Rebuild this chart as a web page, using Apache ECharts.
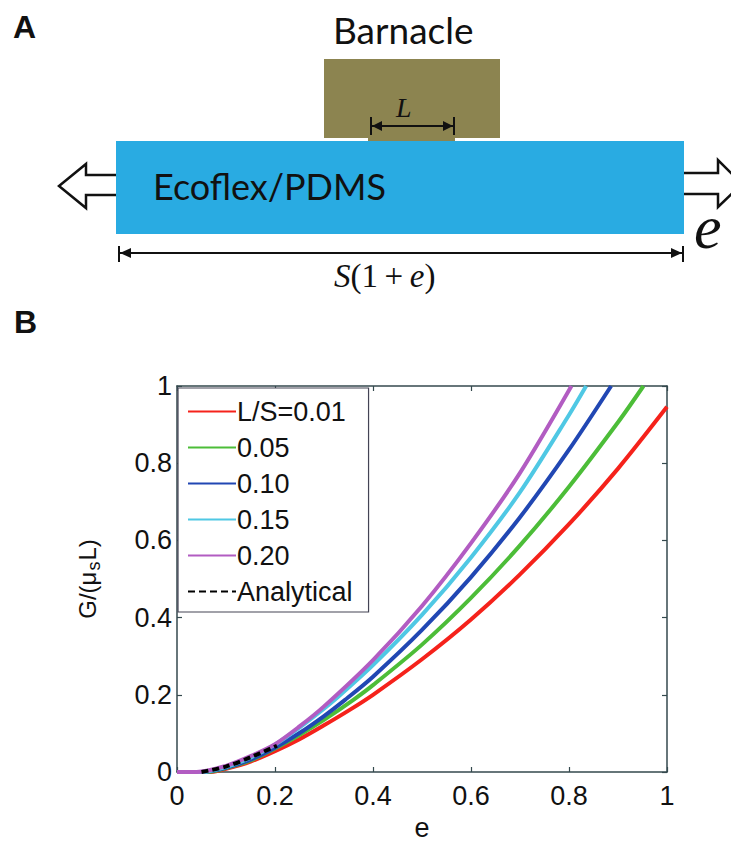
<!DOCTYPE html>
<html><head><meta charset="utf-8">
<script src="https://cdn.jsdelivr.net/npm/echarts@6/dist/echarts.min.js"></script>
<style>html,body{margin:0;padding:0;background:#fff}#c{width:731px;height:843px}</style>
</head><body><div id="c"></div>
<script>
// ---- data ----
const seriesNames = ['L/S=0.01', '0.05', '0.10', '0.15', '0.20', 'Analytical'];
const xTicks = [0, 0.2, 0.4, 0.6, 0.8, 1];
const yTicks = [0, 0.2, 0.4, 0.6, 0.8, 1];

const redE = [0, 0.07, 0.1, 0.15, 0.2, 0.25, 0.3, 0.35, 0.4, 0.5, 0.6, 0.7, 0.8, 0.9, 1.0];
const redG = [0, 0, 0.008, 0.027, 0.054, 0.085, 0.121, 0.159, 0.2, 0.292, 0.395, 0.512, 0.642, 0.786, 0.946];

const greenE = [0, 0.06, 0.1, 0.15, 0.2, 0.25, 0.3, 0.36, 0.4, 0.5, 0.6, 0.7, 0.8, 0.9, 0.952];
const greenG = [0, 0, 0.01, 0.03, 0.061, 0.096, 0.135, 0.187, 0.225, 0.33, 0.451, 0.587, 0.739, 0.906, 1.0];

const blueE = [0, 0.05, 0.1, 0.15, 0.2, 0.25, 0.3, 0.343, 0.4, 0.5, 0.6, 0.7, 0.8, 0.886];
const blueG = [0, 0, 0.011, 0.032, 0.063, 0.101, 0.145, 0.187, 0.247, 0.368, 0.505, 0.66, 0.835, 1.0];

const cyanE = [0, 0.05, 0.1, 0.15, 0.2, 0.25, 0.3, 0.322, 0.4, 0.5, 0.6, 0.7, 0.8, 0.835];
const cyanG = [0, 0, 0.013, 0.037, 0.071, 0.115, 0.164, 0.187, 0.277, 0.407, 0.556, 0.725, 0.925, 1.0];

const purpleE = [0, 0.04, 0.1, 0.15, 0.2, 0.25, 0.3, 0.4, 0.5, 0.6, 0.7, 0.805];
const purpleG = [0, 0, 0.016, 0.041, 0.072, 0.118, 0.17, 0.29, 0.43, 0.593, 0.775, 1.0];

const analyticE = [0.05, 0.1, 0.15, 0.204];
const analyticG = [0, 0.014, 0.038, 0.068];

const colors = ['#f5221b', '#4cbd38', '#2147b3', '#4fc8e4', '#b25cc2', '#000000'];

function zip(a, b) { return a.map((v, i) => [v, b[i]]); }
const allData = [zip(redE, redG), zip(greenE, greenG), zip(blueE, blueG), zip(cyanE, cyanG), zip(purpleE, purpleG), zip(analyticE, analyticG)];

const frame = '#34494e';
const chart = echarts.init(document.getElementById('c'), null, {renderer: 'svg'});

const series = allData.map((d, i) => ({
  name: seriesNames[i],
  type: 'line',
  data: d,
  symbol: 'none',
  smooth: 0.3,
  clip: true,
  lineStyle: {color: colors[i], width: 4, type: i === 5 ? [7, 4] : 'solid'},
  itemStyle: {color: colors[i]},
  z: 2 + i
}));

const serif = '"Liberation Serif", "DejaVu Serif", serif';
const sans = '"Liberation Sans", Arial, sans-serif';
const cal = 'Lato, "Open Sans", sans-serif';

const graphics = [
  {type: 'text', left: 13, top: 11, style: {text: 'A', font: 'bold 32px ' + sans, fill: '#111'}},
  {type: 'text', left: 14, top: 306, style: {text: 'B', font: 'bold 32px ' + sans, fill: '#111'}},
  {type: 'text', left: 333, top: 11, style: {text: 'Barnacle', font: '37px ' + cal, fill: '#111'}},
  // barnacle block
  {type: 'rect', shape: {x: 324, y: 59, width: 176, height: 79}, style: {fill: '#8c8450'}},
  {type: 'rect', shape: {x: 368, y: 136, width: 87, height: 6}, style: {fill: '#8c8450'}},
  // L dimension
  {type: 'line', shape: {x1: 371, y1: 126, x2: 454, y2: 126}, style: {stroke: '#111', lineWidth: 2}},
  {type: 'line', shape: {x1: 371, y1: 117, x2: 371, y2: 135}, style: {stroke: '#111', lineWidth: 2}},
  {type: 'line', shape: {x1: 454, y1: 117, x2: 454, y2: 135}, style: {stroke: '#111', lineWidth: 2}},
  {type: 'polygon', shape: {points: [[372, 126], [382, 121], [382, 131]]}, style: {fill: '#111'}},
  {type: 'polygon', shape: {points: [[453, 126], [443, 121], [443, 131]]}, style: {fill: '#111'}},
  {type: 'text', left: 396, top: 93, style: {text: 'L', font: 'italic 28px ' + serif, fill: '#111'}},
  // arrows
  {type: 'polygon', shape: {points: [[120, 175], [86, 175], [86, 164], [59, 186], [86, 208], [86, 195], [120, 195]]}, style: {fill: '#fff', stroke: '#111', lineWidth: 2.5}},
  {type: 'polygon', shape: {points: [[680, 173], [718, 173], [718, 160], [742, 184], [718, 207], [718, 194], [680, 194]]}, style: {fill: '#fff', stroke: '#111', lineWidth: 2.5}},
  // substrate
  {type: 'rect', shape: {x: 116, y: 141, width: 568, height: 93}, style: {fill: '#29abe2'}},
  {type: 'text', left: 153, top: 168, style: {text: 'Ecoflex/PDMS', font: '36px ' + cal, fill: '#111'}},
  {type: 'text', left: 694, top: 196, style: {text: 'e', font: 'italic 62px ' + serif, fill: '#111'}},
  // S(1+e) dimension
  {type: 'line', shape: {x1: 119, y1: 253, x2: 683, y2: 253}, style: {stroke: '#111', lineWidth: 2}},
  {type: 'line', shape: {x1: 119, y1: 246, x2: 119, y2: 262}, style: {stroke: '#111', lineWidth: 2}},
  {type: 'line', shape: {x1: 683, y1: 246, x2: 683, y2: 262}, style: {stroke: '#111', lineWidth: 2}},
  {type: 'polygon', shape: {points: [[120, 253], [131, 248], [131, 258]]}, style: {fill: '#111'}},
  {type: 'polygon', shape: {points: [[682, 253], [671, 248], [671, 258]]}, style: {fill: '#111'}},
  {type: 'text', left: 334, top: 259, style: {
    text: '{i|S}{n|(1\u2009+\u2009}{i|e}{n|)}',
    rich: {i: {font: 'italic 33px ' + serif, fill: '#111'}, n: {font: '33px ' + serif, fill: '#111'}}
  }}
];

const axisCommon = {
  min: 0, max: 1, interval: 0.2,
  axisLine: {show: true, onZero: false, lineStyle: {color: frame, width: 1.5}},
  axisTick: {show: true, inside: true, length: 5, lineStyle: {color: frame, width: 1.2}},
  splitLine: {show: false}
};

chart.setOption({
  animation: false,
  backgroundColor: '#fff',
  grid: {left: 177, right: 64, top: 386, bottom: 71, containLabel: false},
  legend: {
    data: seriesNames,
    orient: 'vertical',
    left: 178, top: 388,
    itemWidth: 48, itemHeight: 14, itemGap: 9,
    padding: [10, 16, 7, 9],
    backgroundColor: '#fff',
    borderColor: '#445',
    borderWidth: 1.2,
    itemStyle: {opacity: 0},
    textStyle: {fontFamily: sans, fontSize: 27, color: '#111', padding: [0, 0, 0, -4]},
    selectedMode: false,
    z: 10
  },
  xAxis: [
    Object.assign({}, axisCommon, {
      type: 'value', position: 'bottom',
      axisLabel: {fontFamily: sans, fontSize: 27, color: '#111', margin: 10, formatter: v => String(+v.toFixed(1))},
      name: 'e', nameLocation: 'middle', nameGap: 42,
      nameTextStyle: {fontFamily: sans, fontSize: 27, color: '#111'}
    }),
    Object.assign({}, axisCommon, {type: 'value', position: 'top', axisLabel: {show: false}})
  ],
  yAxis: [
    Object.assign({}, axisCommon, {
      type: 'value', position: 'left',
      axisLabel: {fontFamily: sans, fontSize: 27, color: '#111', margin: 5, formatter: v => String(+v.toFixed(1))},
      name: '{a|G/(μ}{s|s}{a|L)}', nameLocation: 'middle', nameGap: 74, nameRotate: 90,
      nameTextStyle: {
        rich: {
          a: {fontFamily: sans, fontSize: 24, color: '#111', lineHeight: 26, verticalAlign: 'middle'},
          s: {fontFamily: sans, fontSize: 18, color: '#111', verticalAlign: 'middle', padding: [13, 1, 0, 1]}
        }
      }
    }),
    Object.assign({}, axisCommon, {type: 'value', position: 'right', axisLabel: {show: false}})
  ],
  graphic: graphics,
  series: series
});
</script>
</body></html>
